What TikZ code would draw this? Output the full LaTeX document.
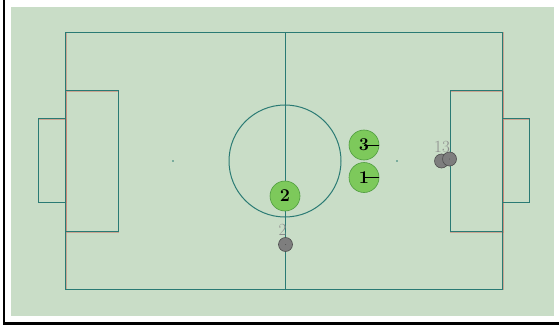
\documentclass[tikz,border=0pt]{standalone}
\usepackage{tikz}
\definecolor{fieldbg}{HTML}{C9DDC7}
\definecolor{lineteal}{HTML}{2A7A74}
\definecolor{linered}{HTML}{C98070}
\definecolor{playerfill}{HTML}{7DC95B}
\definecolor{playerdraw}{HTML}{4E9C3E}
\definecolor{ballfill}{HTML}{7E7E7E}
\definecolor{balldraw}{HTML}{4F4F4F}
\definecolor{labelgray}{HTML}{8C8C8C}
\tikzset{
  fieldline/.style={draw=lineteal, line width=1.0pt},
  fieldshadow/.style={draw=linered, line width=0.8pt, draw opacity=0.6},
  player/.style={circle, fill=playerfill, draw=playerdraw, line width=0.6pt,
    minimum size=30pt, inner sep=0pt, font=\fontsize{18}{18}\selectfont\bfseries},
  opp/.style={circle, fill=ballfill, draw=balldraw, line width=0.6pt,
    minimum size=14pt, inner sep=0pt},
  opplabel/.style={text=labelgray, inner sep=0pt, font=\fontsize{17}{17}\selectfont},
  spot/.style={circle, fill=lineteal, minimum size=1.8pt, inner sep=0pt},
}
\begin{document}
\begin{tikzpicture}[x=1pt, y=-1pt]
\useasboundingbox (0,0) rectangle (559,326);
% background
\fill[white] (0,0) rectangle (559,326);
\fill[fieldbg] (11,7) rectangle (554,316);
% frame
\fill[black] (2.7,0) rectangle (4.9,325);
\fill[black] (2.7,322) rectangle (559,325);
% field shadow (red) slightly offset
\begin{scope}[shift={(0.45,0.35)}]
  \draw[fieldshadow] (65.5,32.5) rectangle (502.5,289.5);
  \draw[fieldshadow] (285,32.5) -- (285,289.5);
  \draw[fieldshadow] (65.5,90.7) rectangle (118.3,231.7);
  \draw[fieldshadow] (38.3,118.7) rectangle (65.5,202.5);
  \draw[fieldshadow] (450,90.7) rectangle (502.5,231.7);
  \draw[fieldshadow] (502.5,118.7) rectangle (529.3,202.5);
\end{scope}
% field lines (teal)
\draw[fieldline] (65.5,32.5) rectangle (502.5,289.5);
\draw[fieldline] (285,32.5) -- (285,289.5);
\draw[fieldline] (285,161) circle[radius=56];
\draw[fieldline] (65.5,90.7) rectangle (118.3,231.7);
\draw[fieldline] (38.3,118.7) rectangle (65.5,202.5);
\draw[fieldline] (450,90.7) rectangle (502.5,231.7);
\draw[fieldline] (502.5,118.7) rectangle (529.3,202.5);
\node[spot] (lspot) at (173,161) {};
\node[spot] (rspot) at (397,161) {};
% opponents
\node[opp] (o2) at (285.5,244.5) {};
\fill[balldraw] (o2.center) circle[radius=0.5];
\node[opplabel] (o2l) at (282.5,229.5) {2};
\node[opp] (o1) at (441.5,161) {};
\node[opp] (o3) at (449.5,159) {};
\fill[balldraw] (o3.center) circle[radius=0.5];
\node[opplabel] (o13l) at (442,147) {13};
% players
\node[player] (p3) at (364,145) {3};
\draw[black, line width=0.6pt] (p3.center) -- (p3.east);
\node[player] (p1) at (364,177.5) {1};
\draw[black, line width=0.6pt] (p1.center) -- (p1.east);
\node[player] (p2) at (285,196) {2};
\end{tikzpicture}
\end{document}
